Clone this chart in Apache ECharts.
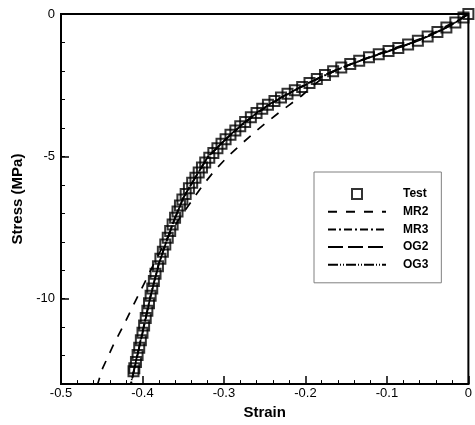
<!DOCTYPE html>
<html>
<head>
<meta charset="utf-8">
<script src="https://cdn.jsdelivr.net/npm/echarts@6/dist/echarts.min.js"></script>
<style>
    html, body {margin: 0; padding: 0; background: #fff;}
    #chart {width: 475px; height: 425px;}
</style>
</head>
<body>
<div id="chart"></div>
<script>
//试验数据
var testStrain = [0, -0.006, -0.016, -0.027, -0.038, -0.050, -0.062, -0.074, -0.086, -0.098,
    -0.110, -0.122, -0.134, -0.145, -0.156, -0.166, -0.176, -0.186, -0.195, -0.204,
    -0.213, -0.222, -0.230, -0.238, -0.246, -0.253, -0.260, -0.267, -0.274, -0.280,
    -0.286, -0.292, -0.298, -0.303, -0.308, -0.313, -0.318, -0.323, -0.327, -0.331,
    -0.335, -0.339, -0.343, -0.347, -0.351, -0.354, -0.357, -0.360, -0.363, -0.366,
    -0.369, -0.372, -0.375, -0.378, -0.381, -0.384, -0.386, -0.388, -0.390, -0.392,
    -0.394, -0.396, -0.398, -0.400, -0.402, -0.404, -0.406, -0.408, -0.410, -0.411];
var testStress = [0, -0.12, -0.30, -0.47, -0.63, -0.79, -0.94, -1.07, -1.19, -1.30,
    -1.41, -1.52, -1.64, -1.76, -1.88, -2.01, -2.14, -2.28, -2.42, -2.56,
    -2.68, -2.80, -2.93, -3.06, -3.19, -3.33, -3.48, -3.63, -3.79, -3.94,
    -4.09, -4.24, -4.40, -4.56, -4.72, -4.88, -5.05, -5.22, -5.39, -5.57,
    -5.75, -5.93, -6.12, -6.32, -6.52, -6.73, -6.94, -7.16, -7.39, -7.62,
    -7.86, -8.10, -8.35, -8.60, -8.86, -9.12, -9.38, -9.64, -9.90, -10.16,
    -10.42, -10.68, -10.94, -11.20, -11.46, -11.72, -11.98, -12.22, -12.44, -12.55];

//MR2 拟合
var mr2Strain = [0, -0.020, -0.040, -0.060, -0.080, -0.100, -0.120, -0.140, -0.160, -0.175,
    -0.190, -0.205, -0.220, -0.235, -0.250, -0.265, -0.280, -0.295, -0.310, -0.325,
    -0.340, -0.355, -0.370, -0.383, -0.395, -0.409, -0.422, -0.436, -0.449, -0.455];
var mr2Stress = [0, -0.32, -0.62, -0.88, -1.09, -1.29, -1.50, -1.71, -1.94, -2.16,
    -2.50, -2.88, -3.20, -3.52, -3.86, -4.22, -4.60, -5.00, -5.45, -5.98,
    -6.58, -7.20, -7.90, -8.60, -9.30, -10.10, -10.87, -11.64, -12.45, -13.0];

//MR3 / OG2 / OG3 拟合
var fitStrain = [0, -0.020, -0.040, -0.060, -0.080, -0.100, -0.120, -0.140, -0.160, -0.180,
    -0.200, -0.220, -0.240, -0.260, -0.280, -0.300, -0.320, -0.340, -0.350, -0.360,
    -0.370, -0.380, -0.390, -0.400, -0.410, -0.414];
var mr3Stress = [0, -0.36, -0.65, -0.90, -1.12, -1.32, -1.51, -1.72, -1.95, -2.21,
    -2.49, -2.79, -3.12, -3.50, -3.95, -4.46, -5.05, -5.95, -6.48, -7.15,
    -7.92, -8.78, -9.88, -11.15, -12.45, -12.98];
var og2Stress = [0, -0.38, -0.67, -0.91, -1.13, -1.33, -1.52, -1.72, -1.94, -2.19,
    -2.47, -2.78, -3.10, -3.47, -3.92, -4.45, -5.03, -5.97, -6.46, -7.17,
    -7.95, -8.80, -9.92, -11.22, -12.48, -13.0];
var og3Stress = [0, -0.37, -0.66, -0.92, -1.13, -1.32, -1.50, -1.71, -1.93, -2.20,
    -2.49, -2.77, -3.09, -3.48, -3.94, -4.46, -5.02, -5.98, -6.47, -7.16,
    -7.94, -8.77, -9.90, -11.20, -12.44, -12.95];

//坐标轴刻度
var yMajorTicks = [-10, -5, 0];

function zip(xs, ys) {
    return xs.map(function (x, i) {
        return [x, ys[i]];
    });
}

var font = 'Liberation Sans, Arial, sans-serif';

function fitLine(name, xs, ys, dash) {
    return {
        name: name,
        type: 'line',
        symbol: 'none',
        showSymbol: false,
        lineStyle: {color: '#000', width: 1.7, type: dash},
        itemStyle: {color: 'rgba(0,0,0,0)', borderWidth: 0}, //图例里不画圆点
        data: zip(xs, ys)
    };
}

var chart = echarts.init(document.getElementById('chart'));
var option = {
    animation: false,
    backgroundColor: '#fff',
    grid: {
        left: 61, right: 6, top: 14, bottom: 39,
        show: true, borderColor: '#000', borderWidth: 2,
        backgroundColor: 'transparent'
    },
    legend: {
        orient: 'vertical',
        left: 314,
        top: 172,
        padding: [16, 13, 12, 13],
        itemWidth: 58,
        itemHeight: 10,
        itemGap: 5.7,
        backgroundColor: '#fff',
        borderColor: '#808080',
        borderWidth: 1,
        borderRadius: 0,
        textStyle: {
            color: '#000', fontFamily: font, fontWeight: 'bold', fontSize: 12,
            padding: [0, 0, 0, 12]
        },
        data: [
            {
                name: 'Test',
                icon: 'path://M0,0H10V10H0Z',
                itemStyle: {color: 'rgba(0,0,0,0)', borderColor: '#000', borderWidth: 2}
            },
            'MR2', 'MR3', 'OG2', 'OG3'
        ]
    },
    xAxis: {
        type: 'value',
        min: -0.5,
        max: 0,
        interval: 0.1,
        name: 'Strain',
        nameLocation: 'middle',
        nameGap: 11,
        nameTextStyle: {color: '#000', fontFamily: font, fontWeight: 'bold', fontSize: 15},
        axisLine: {show: true, onZero: false, lineStyle: {color: '#000', width: 2}},
        axisTick: {show: true, inside: true, length: 8, lineStyle: {color: '#000', width: 1.5}},
        minorTick: {show: true, splitNumber: 5, length: 4, lineStyle: {color: '#000', width: 1}},
        axisLabel: {color: '#000', fontFamily: font, fontSize: 13, margin: 3},
        splitLine: {show: false}
    },
    yAxis: [{
        type: 'value',
        min: -13,
        max: 0,
        name: 'Stress (MPa)',
        nameLocation: 'middle',
        nameGap: 36,
        nameTextStyle: {color: '#000', fontFamily: font, fontWeight: 'bold', fontSize: 15},
        axisLine: {show: true, onZero: false, lineStyle: {color: '#000', width: 2}},
        axisTick: {show: true, inside: true, length: 8, customValues: yMajorTicks, lineStyle: {color: '#000', width: 1.5}},
        axisLabel: {color: '#000', fontFamily: font, fontSize: 13, margin: 6, customValues: yMajorTicks},
        splitLine: {show: false}
    }, {
        //次刻度
        type: 'value',
        position: 'left',
        min: -13,
        max: 0,
        interval: 1,
        axisLine: {show: false, onZero: false},
        axisTick: {show: true, inside: true, length: 4, lineStyle: {color: '#000', width: 1}},
        axisLabel: {show: false},
        splitLine: {show: false}
    }],
    series: [
        {
            name: 'Test',
            type: 'scatter',
            symbol: 'rect',
            symbolSize: 10,
            itemStyle: {color: 'rgba(0,0,0,0)', borderColor: '#000', borderWidth: 2},
            data: zip(testStrain, testStress),
            z: 3
        },
        fitLine('MR2', mr2Strain, mr2Stress, [9, 9]),
        fitLine('MR3', fitStrain, mr3Stress, [8, 3, 2, 3]),
        fitLine('OG2', fitStrain, og2Stress, [15, 5]),
        fitLine('OG3', fitStrain, og3Stress, [10, 2, 1, 2, 1, 2])
    ]
};
chart.setOption(option);
</script>
</body>
</html>
